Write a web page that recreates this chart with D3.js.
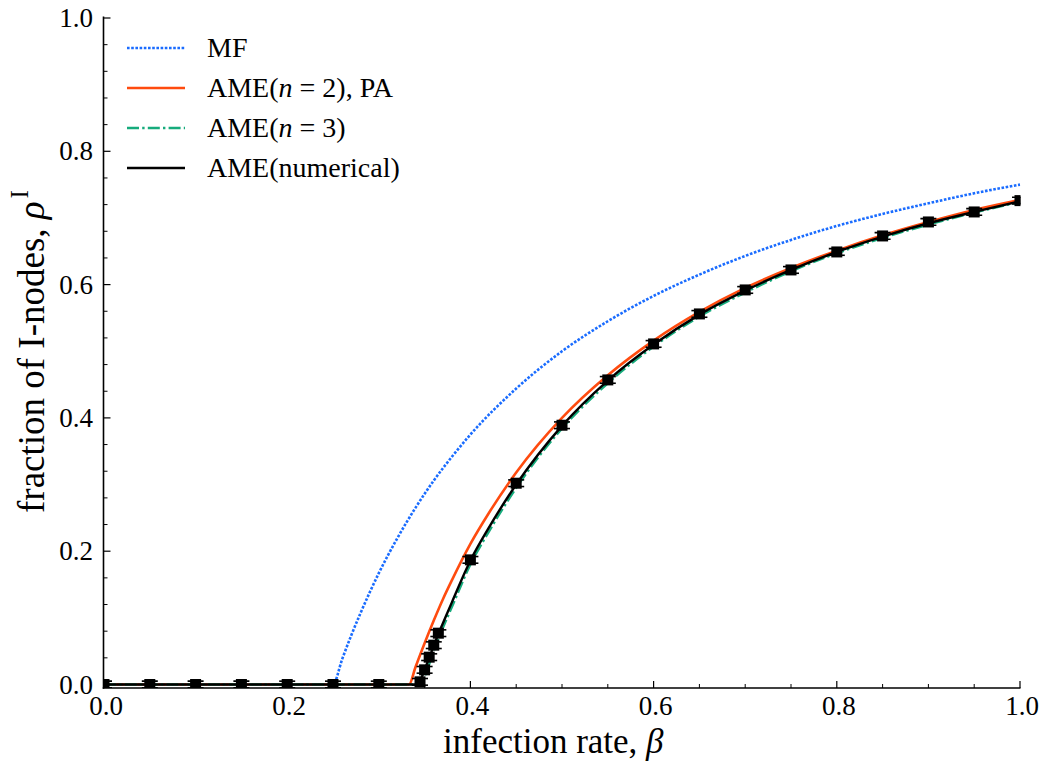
<!DOCTYPE html>
<html><head><meta charset="utf-8">
<script src="https://cdn.jsdelivr.net/npm/d3@7"></script>
<style>
html,body{margin:0;padding:0;background:#fff;}
svg{display:block;}
</style></head>
<body>
<svg id="chart" width="1044" height="761" font-family="'Liberation Serif', 'Times New Roman', serif"></svg>
<script>
// ---- data ----
const mfBeta  = [0,0.25,0.26,0.27,0.28,0.29,0.30,0.32,0.34,0.36,0.38,0.40,0.45,0.50,0.55,0.60,0.65,0.70,0.75,0.80,0.85,0.90,0.95,1.00];
const mfRho   = [0,0,0.038,0.074,0.107,0.138,0.167,0.219,0.265,0.306,0.342,0.375,0.444,0.500,0.545,0.583,0.615,0.643,0.667,0.688,0.706,0.722,0.737,0.750];

const paBeta  = [0,0.333,0.34,0.35,0.36,0.37,0.38,0.40,0.42,0.45,0.50,0.55,0.60,0.65,0.70,0.75,0.80,0.85,0.90,0.95,1.00];
const paRho   = [0,0,0.026,0.062,0.096,0.128,0.157,0.211,0.257,0.318,0.400,0.464,0.516,0.559,0.595,0.625,0.651,0.674,0.694,0.712,0.727];

const n3Beta  = [0,0.346,0.35,0.36,0.37,0.38,0.40,0.42,0.45,0.50,0.55,0.60,0.65,0.70,0.75,0.80,0.85,0.90,0.95,1.00];
const n3Rho   = [0,0,0.012,0.050,0.085,0.117,0.180,0.229,0.295,0.384,0.452,0.507,0.552,0.588,0.620,0.647,0.670,0.690,0.708,0.724];

const numBeta = [0,0.344,0.345,0.35,0.355,0.36,0.365,0.37,0.38,0.40,0.42,0.45,0.50,0.55,0.60,0.65,0.70,0.75,0.80,0.85,0.90,0.95,1.00];
const numRho  = [0,0,0.004,0.022,0.040,0.058,0.076,0.092,0.124,0.186,0.235,0.300,0.388,0.456,0.510,0.555,0.591,0.622,0.649,0.672,0.692,0.709,0.725];

const simBeta = [0,0.05,0.10,0.15,0.20,0.25,0.30,0.345,0.35,0.355,0.36,0.365,0.40,0.45,0.50,0.55,0.60,0.65,0.70,0.75,0.80,0.85,0.90,0.95,1.00];
const simRho  = [0,0,0,0,0,0,0,0.004,0.022,0.041,0.059,0.077,0.187,0.302,0.389,0.457,0.511,0.556,0.592,0.622,0.649,0.673,0.694,0.709,0.726];
const simErr  = 0.005;

const xTicks = [0,0.2,0.4,0.6,0.8,1.0];
const yTicks = [0,0.2,0.4,0.6,0.8,1.0];
const legendLabels = ["MF","AME(n = 2), PA","AME(n = 3)","AME(numerical)"];

// ---- layout ----
const FONT = "'Liberation Serif', 'Times New Roman', serif";
const svg = d3.select("#chart");
const x = d3.scaleLinear().domain([0,1]).range([104,1020]);
const y = d3.scaleLinear().domain([0,1]).range([684.5,18]);
const spineX = 103.5, spineY = 688;

const colors = {mf:"#1a6cff", pa:"#ff4b0f", n3:"#16ab7c", num:"#000"};

svg.append("defs").append("clipPath").attr("id","clip")
  .append("rect").attr("x",spineX).attr("y",10).attr("width",1020.5-spineX).attr("height",spineY-10);

const plot = svg.append("g").attr("clip-path","url(#clip)");
const line = d3.line().x(d=>x(d[0])).y(d=>y(d[1])).curve(d3.curveMonotoneX);
const zip = (a,b)=>a.map((v,i)=>[v,b[i]]);

const styles = {mf:{w:2.6,dash:"2.6,1.6"},pa:{w:2.6,dash:null},n3:{w:2.4,dash:"12,3.2,2.4,3.2"},num:{w:2.4,dash:null}};
const series = [
  {key:"mf", data:zip(mfBeta,mfRho)},
  {key:"pa", data:zip(paBeta,paRho)},
  {key:"n3", data:zip(n3Beta,n3Rho)},
  {key:"num", data:zip(numBeta,numRho)},
];
series.forEach(s=>{
  plot.append("path").attr("d",line(s.data)).attr("fill","none")
    .attr("stroke",colors[s.key]).attr("stroke-width",styles[s.key].w)
    .attr("stroke-dasharray",styles[s.key].dash);
});

// simulation markers with error bars
const sim = zip(simBeta,simRho);
const eb = plot.append("g").attr("stroke","#000").attr("stroke-width",1.6);
sim.forEach(d=>{
  const cx=x(d[0]), y1=y(d[1]-simErr), y2=y(d[1]+simErr);
  eb.append("line").attr("x1",cx).attr("x2",cx).attr("y1",y1).attr("y2",y2);
  eb.append("line").attr("x1",cx-8).attr("x2",cx+8).attr("y1",y1).attr("y2",y1);
  eb.append("line").attr("x1",cx-8).attr("x2",cx+8).attr("y1",y2).attr("y2",y2);
});
plot.append("g").selectAll("rect").data(sim).join("rect")
  .attr("x",d=>x(d[0])-5.5).attr("y",d=>y(d[1])-5.5).attr("width",11).attr("height",11).attr("fill","#000");

// ---- axes ----
const ax = svg.append("g");
ax.append("line").attr("x1",spineX).attr("x2",spineX).attr("y1",16.5).attr("y2",spineY+0.75).attr("stroke","#000").attr("stroke-width",1.6);
ax.append("line").attr("x1",spineX-0.75).attr("x2",1020.5).attr("y1",spineY).attr("y2",spineY).attr("stroke","#000").attr("stroke-width",1.6);

const xMinor = d3.range(0,1.0001,0.05).filter(v=>!xTicks.some(t=>Math.abs(t-v)<1e-6));
const yMinor = d3.range(0,1.0001,0.04).filter(v=>!yTicks.some(t=>Math.abs(t-v)<1e-6));

xTicks.forEach(t=>{
  ax.append("line").attr("x1",x(t)).attr("x2",x(t)).attr("y1",spineY).attr("y2",spineY-7).attr("stroke","#000").attr("stroke-width",1.2);
  ax.append("text").attr("font-family",FONT).attr("x",x(t)+2).attr("y",715).attr("text-anchor","middle").attr("font-size",27).text(d3.format(".1f")(t));
});
xMinor.forEach(t=>{
  ax.append("line").attr("x1",x(t)).attr("x2",x(t)).attr("y1",spineY).attr("y2",spineY-4).attr("stroke","#000").attr("stroke-width",1);
});
yTicks.forEach(t=>{
  ax.append("line").attr("x1",spineX).attr("x2",spineX+7).attr("y1",y(t)).attr("y2",y(t)).attr("stroke","#000").attr("stroke-width",1.2);
  ax.append("text").attr("font-family",FONT).attr("x",93).attr("y",y(t)+9).attr("text-anchor","end").attr("font-size",27).text(d3.format(".1f")(t));
});
yMinor.forEach(t=>{
  ax.append("line").attr("x1",spineX).attr("x2",spineX+4).attr("y1",y(t)).attr("y2",y(t)).attr("stroke","#000").attr("stroke-width",1);
});

// axis labels
const xl = svg.append("text").attr("font-family",FONT).attr("x",443).attr("y",753).attr("font-size",35);
xl.append("tspan").text("infection rate, ");
xl.append("tspan").attr("font-style","italic").text("β");

const yl = svg.append("text").attr("font-family",FONT).attr("transform","translate(44,513) rotate(-90)").attr("font-size",37);
yl.append("tspan").text("fraction of I-nodes, ");
yl.append("tspan").attr("font-style","italic").text("ρ");
yl.append("tspan").attr("font-size",25).attr("dy",-16).attr("dx",3).text("I");

// ---- legend ----
const lg = svg.append("g");
const lgY = [48,88,128,168];
const lgKeys = ["mf","pa","n3","num"];
lgKeys.forEach((k,i)=>{
  lg.append("line").attr("x1",127).attr("x2",185).attr("y1",lgY[i]).attr("y2",lgY[i])
    .attr("stroke",colors[k]).attr("stroke-width",styles[k].w).attr("stroke-dasharray",styles[k].dash);
});
const lt = (i)=>lg.append("text").attr("font-family",FONT).attr("x",207).attr("y",lgY[i]+9).attr("font-size",28);
lt(0).text(legendLabels[0]);
{const t=lt(1); t.append("tspan").text("AME("); t.append("tspan").attr("font-style","italic").text("n");
 t.append("tspan").attr("dx",7).text("="); t.append("tspan").attr("dx",7).text("2), PA");}
{const t=lt(2); t.append("tspan").text("AME("); t.append("tspan").attr("font-style","italic").text("n");
 t.append("tspan").attr("dx",7).text("="); t.append("tspan").attr("dx",7).text("3)");}
lt(3).text(legendLabels[3]);
</script>
</body></html>
